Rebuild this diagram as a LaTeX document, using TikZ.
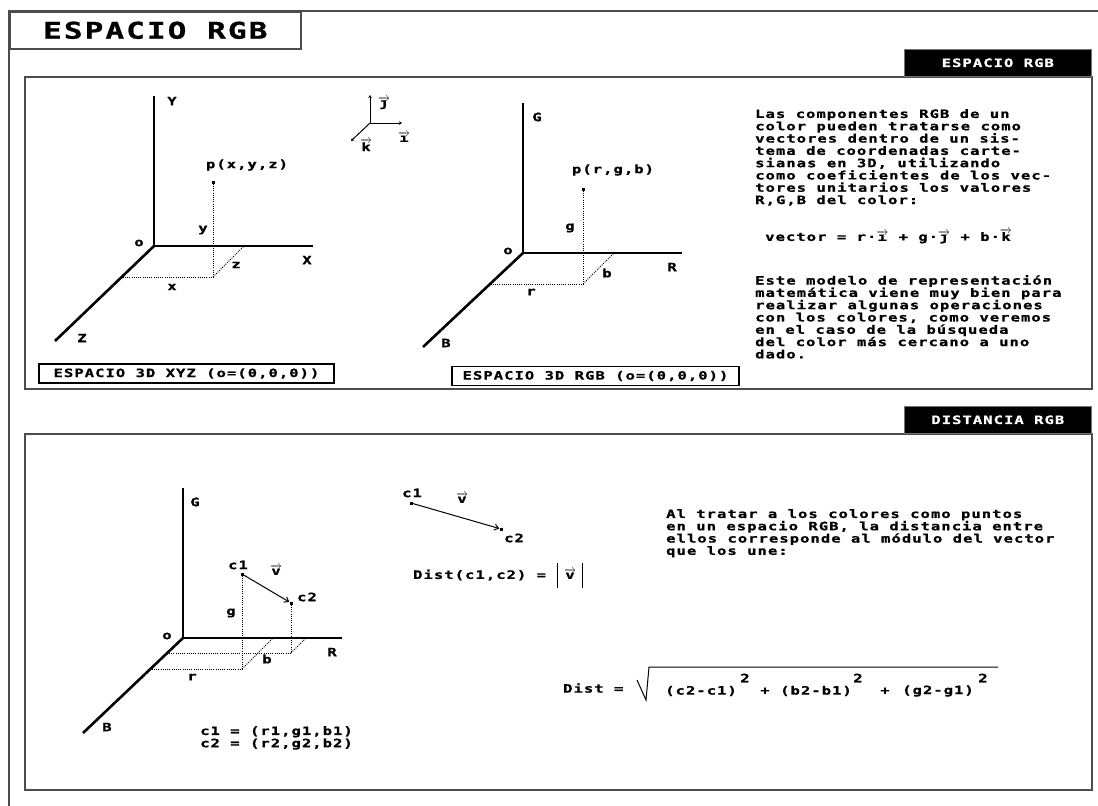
\documentclass[tikz,border=0pt]{standalone}
\usepackage{fontspec}
\newfontfamily\pixfont[FakeStretch=1.35,LetterSpace=9,FakeBold=1]{DejaVu Sans Mono}
\usetikzlibrary{positioning,arrows.meta}
\newcommand\vc[1]{$\overrightarrow{\hbox{#1}}$}

\begin{document}
\begin{tikzpicture}[x=1pt,y=-1pt,
    txt/.style={font=\pixfont\bfseries\fontsize{11.5}{12.3}\selectfont,inner sep=0pt},
    axis/.style={line width=2.6pt,line join=miter},
    proj/.style={line width=0.8pt,dash pattern=on 1pt off 1.2pt},
    frame/.style={draw=black!70,line width=1.6pt},
    tab/.style={txt,fill=black,draw=black!55,line width=1.4pt,text=white,minimum width=187pt,minimum height=27pt,anchor=south east},
    capbox/.style={txt,draw,line width=1.2pt,minimum height=19pt},
    pt/.style={fill,inner sep=0pt,minimum size=3pt},
    vec/.style={line width=1pt,-{Stealth[length=3pt,width=3.5pt]}},
    para/.style={txt,align=left,anchor=north west}]
    \useasboundingbox (0,0) rectangle (1098,806);
    \draw[frame] (9,806)--(9,11)--(1098,11);
    \node[frame,anchor=north west,minimum width=291pt,minimum height=37pt,inner sep=0pt,
        font=\pixfont\bfseries\fontsize{23}{23}\selectfont](title) at (9,11){ESPACIO RGB};
    % panel 1
    \draw[frame] (25,77) rectangle (1092,389);
    \node[tab](tab1) at (1092,77){ESPACIO RGB};
    \coordinate(o1) at (154,246);
    \coordinate(Y1) at (154,96);
    \coordinate(X1) at (313,246);
    \coordinate(Z1) at (55,341);
    \draw[axis] (Y1)--(o1)--(X1);
    \draw[axis] (o1)--(Z1);
    \node[pt](p1) at (213,182){};
    \coordinate(p1f) at (213,277);
    \coordinate(p1z) at (122,277);
    \coordinate(p1x) at (244,246);
    \draw[proj] (p1)--(p1f)--(p1z);
    \draw[proj] (p1f)--(p1x);
    \node[txt] at (172,101){Y};
    \node[txt] at (307,260){X};
    \node[txt] at (82,338){Z};
    \node[txt] at (139,243){o};
    \node[txt] at (247,165){p(x,y,z)};
    \node[txt] at (203,230){y};
    \node[txt] at (236,265){z};
    \node[txt] at (172,287){x};
    \node[capbox,minimum width=295pt](cap1) at (186.5,373.5){ESPACIO 3D XYZ (o=(0,0,0))};
    \coordinate(u0) at (370,123);
    \coordinate(uj) at (370,95);
    \coordinate(ui) at (402,123);
    \coordinate(uk) at (351,141);
    \draw[vec] (u0)--(uj);
    \draw[vec] (u0)--(ui);
    \draw[vec] (u0)--(uk);
    \node[txt] at (384,103){\vc{\j}};
    \node[txt] at (404,137){\vc{\i}};
    \node[txt] at (366,145){\vc{k}};
    \coordinate(o2) at (523,253);
    \coordinate(G2) at (523,103);
    \coordinate(R2) at (682,253);
    \coordinate(B2) at (423,347);
    \draw[axis] (G2)--(o2)--(R2);
    \draw[axis] (o2)--(B2);
    \node[pt](p2) at (583,189){};
    \coordinate(p2f) at (583,284);
    \coordinate(p2b) at (491,284);
    \coordinate(p2r) at (614,253);
    \draw[proj] (p2)--(p2f)--(p2b);
    \draw[proj] (p2f)--(p2r);
    \node[txt] at (537,117){G};
    \node[txt] at (672,267){R};
    \node[txt] at (446,343){B};
    \node[txt] at (508,251){o};
    \node[txt] at (613,170){p(r,g,b)};
    \node[txt] at (570,228){g};
    \node[txt] at (607,273){b};
    \node[txt] at (531,292){r};
    \node[capbox,minimum width=287pt](cap2) at (595.5,376){ESPACIO 3D RGB (o=(0,0,0))};
    \node[para](txt1) at (755,109){Las componentes RGB de un\\color pueden tratarse como\\vectores dentro de un sis-\\tema de coordenadas carte-\\sianas en 3D, utilizando\\como coeficientes de los vec-\\tores unitarios los valores\\R,G,B del color:};
    \node[txt,anchor=west](eq1) at (765,236){vector = r·\vc{\i} + g·\vc{\j} + b·\vc{k}};
    \node[para](txt2) at (755,275){Este modelo de representación\\matemática viene muy bien para\\realizar algunas operaciones\\con los colores, como veremos\\en el caso de la búsqueda\\del color más cercano a uno\\dado.};
    % panel 2
    \draw[frame] (25,434) rectangle (1092,790);
    \node[tab](tab2) at (1092,434){DISTANCIA RGB};
    \coordinate(o3) at (183,638);
    \coordinate(G3) at (183,488);
    \coordinate(R3) at (342,638);
    \coordinate(B3) at (83,733);
    \draw[axis] (G3)--(o3)--(R3);
    \draw[axis] (o3)--(B3);
    \node[pt](c1) at (242,574){};
    \node[pt](c2) at (291,603){};
    \coordinate(c1f) at (242,669);
    \coordinate(c1b) at (151,669);
    \coordinate(c1r) at (273,638);
    \coordinate(c2f) at (291,653);
    \coordinate(c2b) at (167,653);
    \coordinate(c2r) at (306,638);
    \draw[proj] (c1)--(c1f)--(c1b);
    \draw[proj] (c1f)--(c1r);
    \draw[proj] (c2)--(c2f)--(c2b);
    \draw[proj] (c2f)--(c2r);
    \draw[line width=1pt,-{Straight Barb[length=4pt,width=6pt]}] (c1)--(c2);
    \node[txt] at (195,502){G};
    \node[txt] at (332,652){R};
    \node[txt] at (107,727){B};
    \node[txt] at (167,636){o};
    \node[txt] at (238,565){c1};
    \node[txt] at (276,570){\vc{v}};
    \node[txt] at (307,597){c2};
    \node[txt] at (231,613){g};
    \node[txt] at (267,659){b};
    \node[txt] at (192,677){r};
    \node[para](cdef) at (200,726){c1 = (r1,g1,b1)\\c2 = (r2,g2,b2)};
    \node[pt](d1) at (411,503){};
    \node[pt](d2) at (501,529){};
    \draw[line width=1pt,-{Straight Barb[length=4pt,width=6pt]}] (d1)--(d2);
    \node[txt] at (412,493){c1};
    \node[txt] at (462,498){\vc{v}};
    \node[txt] at (514,538){c2};
    \node[txt,anchor=west](dist1) at (413,575){Dist(c1,c2) =};
    \node[txt](vabs) at (570,574){\vc{v}};
    \draw[line width=1pt] (557,563)--(557,588) (582,563)--(582,588);
    \node[para](txt3) at (666,509){Al tratar a los colores como puntos\\en un espacio RGB, la distancia entre\\ellos corresponde al módulo del vector\\que los une:};
    \node[txt,anchor=west](dist2) at (563,688){Dist =};
    \draw[line width=1pt] (637,680)--(646,700)--(649,667)--(998,667);
    \node[txt,anchor=west](t1) at (665,691){(c2-c1)};
    \node[txt] at (745,678){2};
    \node[txt] at (765,691){+};
    \node[txt,anchor=west](t2) at (780,691){(b2-b1)};
    \node[txt] at (858,678){2};
    \node[txt] at (885,691){+};
    \node[txt,anchor=west](t3) at (902,691){(g2-g1)};
    \node[txt] at (983,678){2};
\end{tikzpicture}
\end{document}
